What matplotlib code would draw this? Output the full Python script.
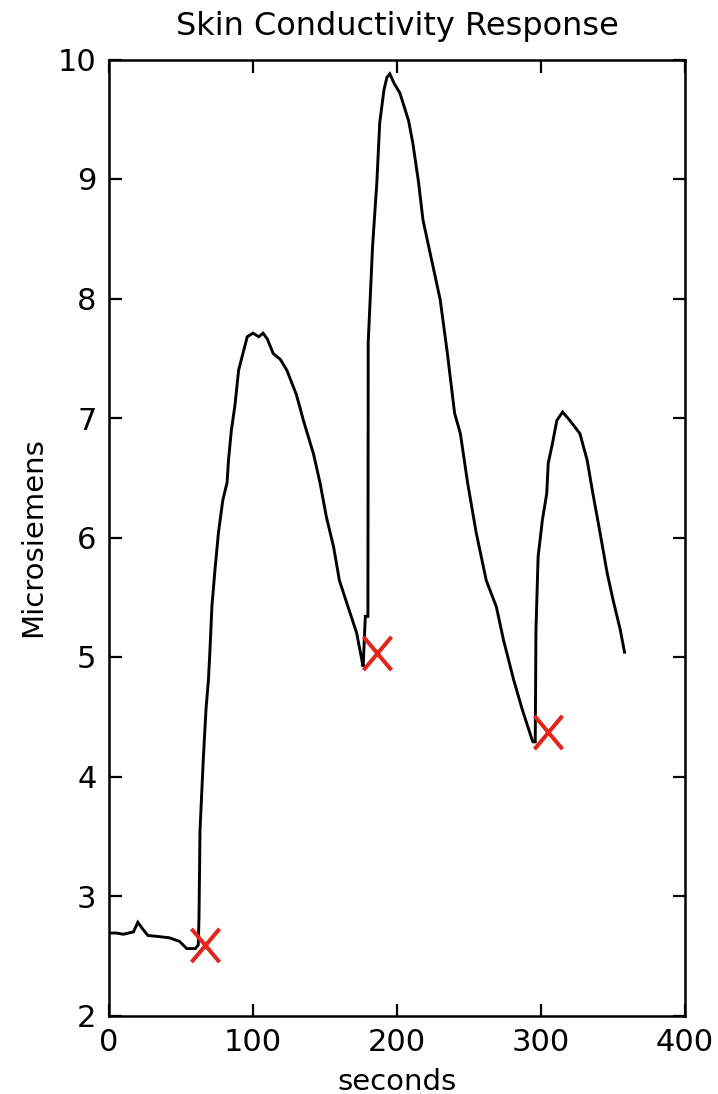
import matplotlib
matplotlib.use("Agg")
import matplotlib.pyplot as plt
from matplotlib.path import Path

plt.rcParams['font.family'] = ['DejaVu Sans']

# Skin conductivity trace (seconds, microsiemens)
seconds = [0, 5, 10, 17, 20, 23, 27, 35, 42, 49, 54, 60, 62, 62.5, 63.2, 65.5, 67.4,
           69, 70, 71.5, 73.6, 76, 79, 82, 83, 85, 87.5, 90, 93, 96, 100, 104, 107, 110,
           114, 119, 123.5, 130, 133, 135, 142, 146.5, 151, 156, 160, 166, 172, 176, 176.5,
           178, 179.8, 180, 183, 186, 188, 191, 193, 195, 198, 202, 208, 211, 215, 218,
           223, 230, 235, 240, 244, 249, 255, 262, 269, 274, 281, 287, 294, 294.5, 296,
           296.5, 298, 301, 304, 305, 308, 311, 315, 320, 327, 332, 336, 341, 346, 350,
           355, 358]
microsiemens = [2.69, 2.69, 2.68, 2.70, 2.78, 2.73, 2.67, 2.66, 2.65, 2.62, 2.56, 2.56, 2.59,
                2.82, 3.55, 4.15, 4.57,
                4.80, 5.03, 5.43, 5.73, 6.04, 6.31, 6.46, 6.65, 6.90, 7.11, 7.40, 7.54, 7.68,
                7.71, 7.68, 7.71, 7.66,
                7.54, 7.49, 7.40, 7.20, 7.07, 6.98, 6.70, 6.46, 6.17, 5.92, 5.64, 5.42, 5.20,
                4.95, 4.92,
                5.34, 5.34, 7.63, 8.43, 8.97, 9.47, 9.75, 9.85, 9.88, 9.80, 9.72, 9.49, 9.30,
                8.97, 8.66,
                8.38, 7.99, 7.54, 7.04, 6.87, 6.46, 6.04, 5.64, 5.42, 5.14, 4.81, 4.56, 4.30,
                4.29, 4.29,
                5.23, 5.84, 6.15, 6.37, 6.62, 6.79, 6.98, 7.05, 6.98, 6.87, 6.65, 6.37, 6.04,
                5.70, 5.48,
                5.23, 5.04]

# Marked response onsets
onset_seconds = [66.7, 186, 305]
onset_values = [2.59, 5.03, 4.37]

x_ticks = [0, 100, 200, 300, 400]
y_ticks = [2, 3, 4, 5, 6, 7, 8, 9, 10]

fig = plt.figure(figsize=(7.18, 10.94), dpi=100)
ax = fig.add_axes([109 / 718, 1 - 1015.5 / 1094, (685 - 109) / 718, (1015.5 - 59.5) / 1094])

ax.plot(seconds, microsiemens, color='black', linewidth=2.1, solid_joinstyle='miter')

xpath = Path([(-0.42, -0.5), (0.42, 0.5), (-0.42, 0.5), (0.42, -0.5)],
             [Path.MOVETO, Path.LINETO, Path.MOVETO, Path.LINETO])
ax.plot(onset_seconds, onset_values, linestyle='none', marker=xpath, markersize=24,
        markeredgewidth=2.9, color='#e3241b', zorder=5)

ax.set_xlim(0, 400)
ax.set_ylim(2, 10)
ax.set_xticks(x_ticks)
ax.set_yticks(y_ticks)
ax.tick_params(direction='in', length=9, width=1.6, top=True, right=True,
               labelsize=22, pad=9)
for sp in ax.spines.values():
    sp.set_linewidth(1.8)

ax.set_title('Skin Conductivity Response', fontsize=23, pad=18)
ax.set_xlabel('seconds', fontsize=21, labelpad=8)
ax.set_ylabel('Microsiemens', fontsize=21, labelpad=8)

fig.savefig('out.png', dpi=100)
